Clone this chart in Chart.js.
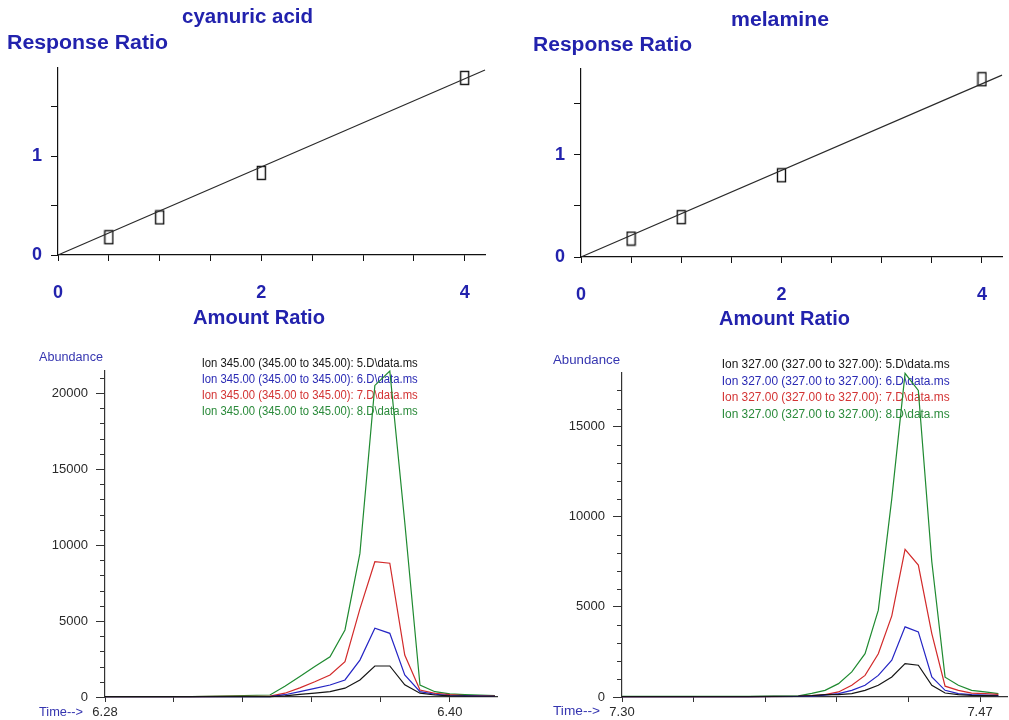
<!DOCTYPE html>
<html>
<head>
<meta charset="utf-8">
<script src="https://cdn.jsdelivr.net/npm/chart.js@4.4.1/dist/chart.umd.min.js"></script>
<style>
  body { margin: 0; background: #fff; width: 1009px; height: 720px; position: relative; overflow: hidden; }
  canvas { position: absolute; }
</style>
</head>
<body>
<canvas id="calCyanuric" width="500" height="330" style="left:0;top:0"></canvas>
<canvas id="calMelamine" width="489" height="330" style="left:520px;top:0"></canvas>
<canvas id="ticCyanuric" width="475" height="380" style="left:30px;top:340px"></canvas>
<canvas id="ticMelamine" width="469" height="380" style="left:540px;top:340px"></canvas>
<script>
// calibration curves
const calAmount = [0.5, 1, 2, 4];
const cyanuricResponse = [0.18, 0.38, 0.83, 1.79];
const melamineResponse = [0.18, 0.39, 0.80, 1.74];
const fitAmount = [0, 4.2];
const cyanuricFit = [0, 1.87];
const melamineFit = [0, 1.78];

// ion chromatograms, cyanuric acid (ion 345)
const cyanuricIons = [
  "Ion 345.00 (345.00 to 345.00): 5.D\\data.ms",
  "Ion 345.00 (345.00 to 345.00): 6.D\\data.ms",
  "Ion 345.00 (345.00 to 345.00): 7.D\\data.ms",
  "Ion 345.00 (345.00 to 345.00): 8.D\\data.ms"
];
const cyanuricTime = [6.28, 6.31, 6.3374, 6.3426, 6.3478, 6.3530, 6.3583, 6.3635, 6.3687, 6.3739, 6.3791, 6.3843, 6.3896, 6.3948, 6.4000, 6.4052, 6.4104, 6.4157];
const cyanuric5D = [20, 20, 20, 80, 170, 260, 350, 580, 1120, 2040, 2040, 800, 250, 130, 80, 60, 50, 50];
const cyanuric6D = [20, 20, 30, 150, 350, 570, 790, 1120, 2430, 4520, 4190, 1450, 350, 180, 100, 80, 60, 50];
const cyanuric7D = [20, 20, 60, 250, 600, 1000, 1450, 2330, 5800, 8900, 8800, 2760, 460, 240, 150, 100, 80, 60];
const cyanuric8D = [30, 30, 130, 700, 1350, 2000, 2650, 4410, 9450, 20500, 21450, 11500, 790, 350, 200, 150, 120, 100];
const cyanuricTimeTicks = [6.28, 6.304, 6.328, 6.352, 6.376, 6.40];

// ion chromatograms, melamine (ion 327)
const melamineIons = [
  "Ion 327.00 (327.00 to 327.00): 5.D\\data.ms",
  "Ion 327.00 (327.00 to 327.00): 6.D\\data.ms",
  "Ion 327.00 (327.00 to 327.00): 7.D\\data.ms",
  "Ion 327.00 (327.00 to 327.00): 8.D\\data.ms"
];
const melamineTime = [7.30, 7.36, 7.3838, 7.3901, 7.3964, 7.4028, 7.4091, 7.4154, 7.4217, 7.4281, 7.4344, 7.4407, 7.4471, 7.4534, 7.4597, 7.4660, 7.4723, 7.4787];
const melamine5D = [20, 20, 50, 80, 130, 130, 185, 370, 650, 1110, 1850, 1760, 650, 220, 130, 90, 80, 70];
const melamine6D = [20, 20, 30, 50, 100, 185, 370, 650, 1200, 2040, 3890, 3610, 1110, 370, 185, 130, 100, 80];
const melamine7D = [20, 20, 40, 80, 130, 280, 650, 1200, 2400, 4500, 8185, 7315, 3520, 600, 370, 220, 185, 150];
const melamine8D = [30, 30, 60, 200, 370, 740, 1390, 2400, 4815, 11000, 17950, 17000, 7500, 1100, 650, 370, 280, 185];
const melamineTimeTicks = [7.30, 7.334, 7.368, 7.402, 7.436, 7.47];

const ionColors = ["#151515", "#2424c4", "#d22a2a", "#1f8a30"];
const ionTextColors = ["#161616", "#2a2ab4", "#d33434", "#2a8a3a"];
const blueText = "#2222ad";

function drawText(ctx, t) {
  ctx.save();
  ctx.font = t.font;
  ctx.fillStyle = t.color;
  ctx.textBaseline = "middle";
  ctx.textAlign = "left";
  const w = ctx.measureText(t.text).width;
  const sx = t.width ? t.width / w : 1;
  const x0 = t.align === "center" ? t.x - w * sx / 2 : t.x;
  ctx.translate(x0, t.y);
  ctx.scale(sx, 1);
  ctx.fillText(t.text, 0, 0);
  ctx.restore();
}

const panelText = {
  id: "panelText",
  beforeDatasetsDraw(chart, args, opts) {
    const ctx = chart.ctx;
    (opts.items || []).forEach(t => drawText(ctx, t));
    const lg = opts.legend;
    if (lg) {
      chart.data.datasets.forEach((ds, i) => {
        drawText(ctx, { text: ds.label, x: lg.x, y: lg.y + i * lg.step, font: lg.font, color: lg.colors[i], width: lg.width });
      });
    }
    // short marks for the unlabelled abundance ticks
    if (opts.minorLength) {
      const y = chart.scales.y;
      ctx.save();
      ctx.strokeStyle = "#333";
      ctx.lineWidth = 1;
      y.ticks.forEach(t => {
        if (t.label !== "") return;
        const py = Math.round(y.getPixelForValue(t.value)) + 0.5;
        ctx.beginPath();
        ctx.moveTo(y.right - opts.minorLength, py);
        ctx.lineTo(y.right, py);
        ctx.stroke();
      });
      ctx.restore();
    }
  }
};

function fixAxis(size, key) {
  return function (s) {
    s[key] = size;
    s.paddingLeft = 0; s.paddingRight = 0; s.paddingTop = 0; s.paddingBottom = 0;
  };
}

function boxMarker() {
  const c = document.createElement("canvas");
  c.width = 11; c.height = 16;
  const g = c.getContext("2d");
  g.strokeStyle = "#111";
  g.lineWidth = 1.4;
  g.strokeRect(1.5, 1.5, 8, 13);
  return c;
}

function toXY(xs, ys) {
  return xs.map((x, i) => ({ x: x, y: ys[i] }));
}

function calibrationChart(id, responses, fit, cfg) {
  new Chart(document.getElementById(id), {
    type: "scatter",
    data: {
      datasets: [
        {
          label: "fit",
          data: toXY(fitAmount, fit),
          showLine: true,
          borderColor: "#2a2a2a",
          borderWidth: 1.2,
          pointRadius: 0,
          clip: false
        },
        {
          label: "standards",
          data: toXY(calAmount, responses),
          pointStyle: boxMarker(),
          pointRadius: 6,
          clip: false
        }
      ]
    },
    options: {
      responsive: false,
      animation: false,
      layout: { padding: { top: cfg.top, right: cfg.right, left: 0, bottom: 0 } },
      plugins: {
        legend: { display: false },
        tooltip: { enabled: false },
        panelText: { items: cfg.items }
      },
      scales: {
        x: {
          type: "linear", min: 0, max: 4.2,
          afterFit: fixAxis(cfg.xHeight, "height"),
          border: { color: "#111", width: 1.2 },
          grid: { drawOnChartArea: false, tickLength: 6, tickColor: "#111" },
          ticks: {
            stepSize: 0.5, includeBounds: false, autoSkip: false, maxTicksLimit: 20, maxRotation: 0, padding: 21,
            color: blueText, font: { family: "Liberation Sans", size: 18, weight: "bold" },
            callback: v => (v % 2 === 0 ? String(v) : "")
          }
        },
        y: {
          type: "linear", min: 0, max: cfg.ymax,
          afterFit: fixAxis(cfg.yWidth, "width"),
          border: { color: "#111", width: 1.2 },
          grid: { drawOnChartArea: false, tickLength: 7, tickColor: "#111" },
          ticks: {
            stepSize: 0.5, includeBounds: false, autoSkip: false, padding: 9,
            color: blueText, font: { family: "Liberation Sans", size: 18, weight: "bold" },
            callback: v => (v % 1 === 0 ? String(v) : "")
          }
        }
      }
    },
    plugins: [panelText]
  });
}

function chromatogramChart(id, times, series, labels, timeTicks, cfg) {
  new Chart(document.getElementById(id), {
    type: "line",
    data: {
      datasets: series.map((ys, i) => ({
        label: labels[i],
        data: toXY(times, ys),
        borderColor: ionColors[i],
        borderWidth: 1.2,
        pointRadius: 0,
        tension: 0,
        clip: false
      }))
    },
    options: {
      responsive: false,
      animation: false,
      layout: { padding: { top: cfg.top, right: cfg.right, left: 0, bottom: 0 } },
      plugins: {
        legend: { display: false },
        tooltip: { enabled: false },
        panelText: { items: cfg.items, legend: cfg.legend, minorLength: 5 }
      },
      scales: {
        x: {
          type: "linear", min: timeTicks[0], max: cfg.xmax,
          afterFit: fixAxis(23, "height"),
          afterBuildTicks: s => { s.ticks = timeTicks.map(v => ({ value: v })); },
          border: { color: "#333", width: 1.2 },
          grid: { drawOnChartArea: false, tickLength: 5, tickColor: "#333" },
          ticks: {
            autoSkip: false, maxRotation: 0, padding: 3,
            color: "#2a2a2a", font: { family: "Liberation Sans", size: 13 },
            callback: (v, i, ticks) => (i === 0 || i === ticks.length - 1 ? v.toFixed(2) : "")
          }
        },
        y: {
          type: "linear", min: 0, max: cfg.ymax,
          afterFit: fixAxis(cfg.yWidth, "width"),
          afterBuildTicks: s => {
            const t = [];
            for (let v = 0; v <= cfg.ymax; v += 1000) t.push({ value: v });
            s.ticks = t;
          },
          border: { color: "#333", width: 1.2 },
          grid: {
            drawOnChartArea: false, tickLength: 9,
            tickColor: c => (c.tick && c.tick.value % 5000 === 0 ? "#333" : "rgba(0,0,0,0)")
          },
          ticks: {
            autoSkip: false, padding: 8,
            color: "#2a2a2a", font: { family: "Liberation Sans", size: 13 },
            callback: v => (v % 5000 === 0 ? String(v) : "")
          }
        }
      }
    },
    plugins: [panelText]
  });
}

const titleFont = 'bold 20px "Liberation Sans"';
const smallFont = '12px "Liberation Sans"';

calibrationChart("calCyanuric", cyanuricResponse, cyanuricFit, {
  top: 68, right: 15, xHeight: 75, yWidth: 58, ymax: 1.89,
  items: [
    { text: "cyanuric acid", x: 247.5, y: 17.5, align: "center", font: titleFont, color: blueText, width: 131 },
    { text: "Response Ratio", x: 7, y: 43.5, font: titleFont, color: blueText, width: 161 },
    { text: "Amount Ratio", x: 259, y: 318, align: "center", font: titleFont, color: blueText, width: 132 }
  ]
});

calibrationChart("calMelamine", melamineResponse, melamineFit, {
  top: 69, right: 0, xHeight: 73, yWidth: 61, ymax: 1.84,
  items: [
    { text: "melamine", x: 260, y: 20.5, align: "center", font: titleFont, color: blueText, width: 98 },
    { text: "Response Ratio", x: 13, y: 45, font: titleFont, color: blueText, width: 159 },
    { text: "Amount Ratio", x: 264.5, y: 319, align: "center", font: titleFont, color: blueText, width: 131 }
  ]
});

chromatogramChart("ticCyanuric", cyanuricTime, [cyanuric5D, cyanuric6D, cyanuric7D, cyanuric8D], cyanuricIons, cyanuricTimeTicks, {
  top: 31, right: 8, yWidth: 75, ymax: 21450, xmax: 6.4164,
  items: [
    { text: "Abundance", x: 9, y: 18, font: smallFont, color: "#3535b0", width: 64 },
    { text: "Time-->", x: 9, y: 373, font: smallFont, color: "#3535b0", width: 44 }
  ],
  legend: { x: 171.7, y: 23.7, step: 16.1, font: smallFont, colors: ionTextColors, width: 216 }
});

chromatogramChart("ticMelamine", melamineTime, [melamine5D, melamine6D, melamine7D, melamine8D], melamineIons, melamineTimeTicks, {
  top: 33, right: 2, yWidth: 82, ymax: 17970, xmax: 7.4828,
  items: [
    { text: "Abundance", x: 13, y: 21, font: smallFont, color: "#3535b0", width: 67 },
    { text: "Time-->", x: 13, y: 372, font: smallFont, color: "#3535b0", width: 47 }
  ],
  legend: { x: 181.7, y: 24.3, step: 16.9, font: smallFont, colors: ionTextColors, width: 228 }
});
</script>
</body>
</html>
